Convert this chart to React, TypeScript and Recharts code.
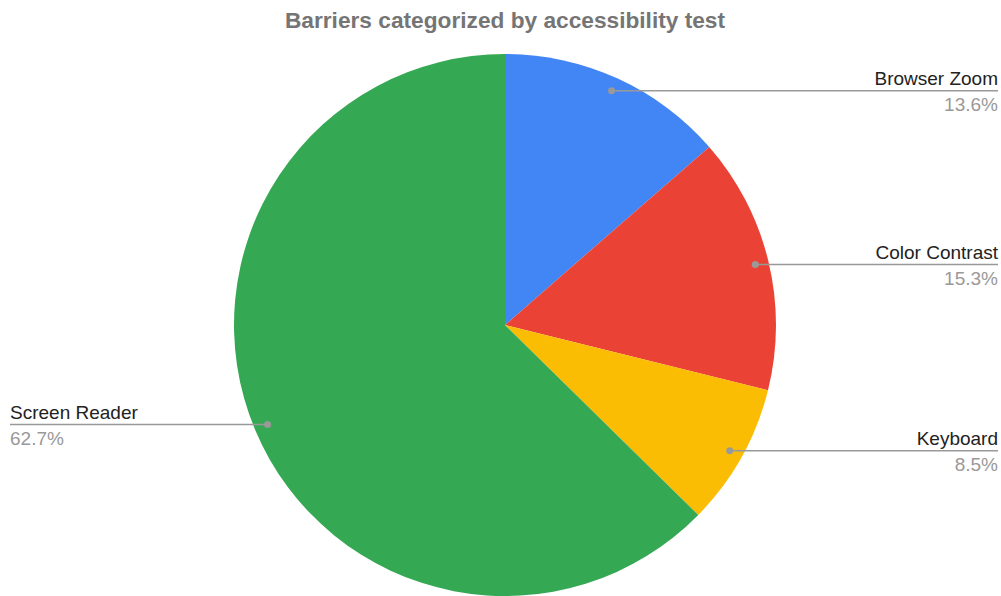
import { Cell, Pie, PieChart } from "recharts";

const categories = ["Browser Zoom", "Color Contrast", "Keyboard", "Screen Reader"];
const shares = [13.6, 15.3, 8.5, 62.7];
const colors = ["#4285F4", "#EA4335", "#FBBC04", "#34A853"];

const data = categories.map((name, i) => ({ name, value: shares[i] }));

const RAD = Math.PI / 180;
const FONT = "Arial, 'Liberation Sans', sans-serif";

const renderLabel = (props: any) => {
  const { cx, cy, midAngle, outerRadius, name, value } = props;
  const r = outerRadius * 0.95;
  const x = cx + r * Math.cos(-midAngle * RAD);
  const y = cy + r * Math.sin(-midAngle * RAD);
  const right = x > cx;
  const endX = right ? 998 : 10;
  const anchor = right ? "end" : "start";
  return (
    <g>
      <line x1={x} y1={y} x2={endX} y2={y} stroke="#999" strokeWidth={1.5} />
      <circle cx={x} cy={y} r={3.5} fill="#999" />
      <text
        x={endX}
        y={y - 6}
        textAnchor={anchor}
        fill="#222"
        fontSize={19}
        fontFamily={FONT}
      >
        {name}
      </text>
      <text
        x={endX}
        y={y + 20}
        textAnchor={anchor}
        fill="#999"
        fontSize={19}
        fontFamily={FONT}
      >
        {Number(value).toFixed(1)}%
      </text>
    </g>
  );
};

const App = () => {
  return (
    <div
      style={{
        position: "absolute",
        left: 0,
        top: 0,
        width: 1001,
        height: 596,
        background: "#fff",
      }}
    >
      <PieChart width={1001} height={596}>
        <text
          x={505}
          y={28}
          textAnchor="middle"
          fill="#757575"
          fontSize={22.7}
          fontWeight="bold"
          fontFamily={FONT}
        >
          Barriers categorized by accessibility test
        </text>
        <Pie
          data={data}
          dataKey="value"
          nameKey="name"
          cx={500}
          cy={320}
          outerRadius={271}
          startAngle={90}
          endAngle={-270}
          stroke="none"
          label={renderLabel}
          labelLine={false}
          isAnimationActive={false}
        >
          {data.map((d, i) => (
            <Cell key={d.name} fill={colors[i]} />
          ))}
        </Pie>
      </PieChart>
    </div>
  );
};

export default App;
